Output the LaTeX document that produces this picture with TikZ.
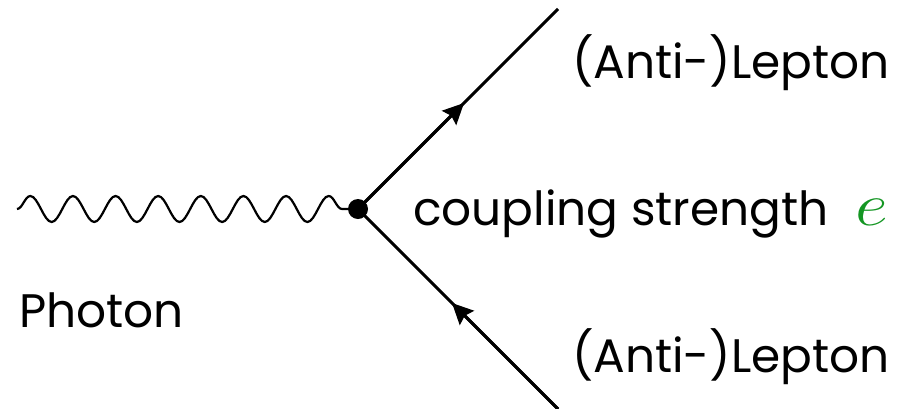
\RequirePackage{fix-cm}
\documentclass[tikz,border=0pt]{standalone}
\usepackage{fontspec}
\setmainfont{Poppins}
\usetikzlibrary{arrows.meta,calc,decorations.pathmorphing}
\definecolor{cgreen}{RGB}{20,150,35}
\tikzset{
  fermion/.style={line width=3pt},
  ftip/.style={line width=3pt, -{Stealth[length=21pt,width=20pt,inset=3pt]}},
  photon/.style={line width=2.2pt, line join=round, decorate,
    decoration={snake, segment length=42.625pt, amplitude=13pt}},
  lbl/.style={anchor=base west, inner sep=0pt, font=\fontsize{47}{56}\selectfont}
}
\begin{document}
\begin{tikzpicture}[x=1pt,y=-1pt]
\useasboundingbox (0,0) rectangle (902,408);
\coordinate (p) at (17,209);
\coordinate (v) at (358,209);
\coordinate (lt) at (558,9);
\coordinate (lb) at (558,409);
\coordinate (at1) at ($(v)!0.53!(lt)$);
\coordinate (at2) at ($(lb)!0.53!(v)$);
\draw[photon] (p) -- (v);
\draw[fermion] (v) -- (lt);
\draw[fermion] (lb) -- (v);
\draw[ftip] (v) -- (at1);
\draw[ftip] (lb) -- (at2);
\node[circle, fill=black, inner sep=0pt, minimum size=20pt] (dot) at (v) {};
\node[lbl] (ltop) at (572,78) {(Anti-)Lepton};
\node[lbl] (lbot) at (572,372) {(Anti-)Lepton};
\node[lbl] (ph) at (19,327) {Photon};
\node[lbl] (cs) at (413,225) {coupling strength\hspace{27pt}\textcolor{cgreen}{\scalebox{1.18}[1]{\fontsize{61}{66}\selectfont$e$}}};
\end{tikzpicture}
\end{document}
